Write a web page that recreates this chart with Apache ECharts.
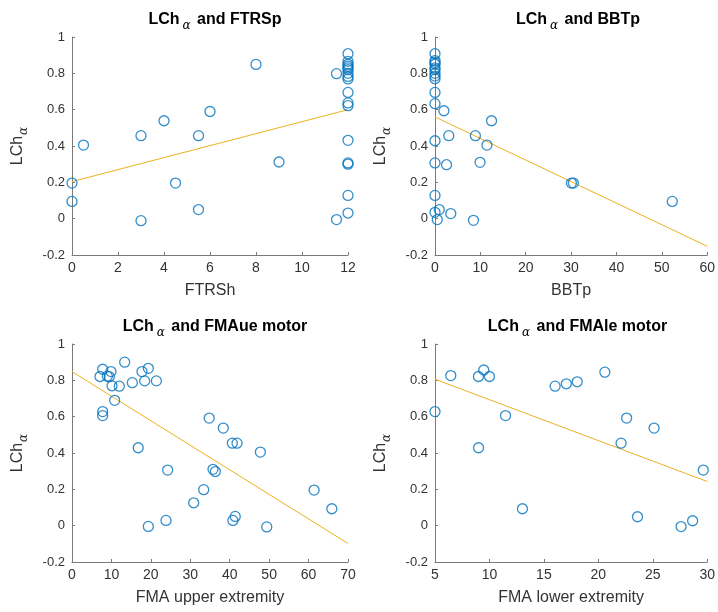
<!DOCTYPE html>
<html><head><meta charset="utf-8">
<script src="https://cdn.jsdelivr.net/npm/echarts@6/dist/echarts.min.js"></script>
<style>html,body{margin:0;padding:0;background:#fff}#c{width:718px;height:612px}</style>
</head><body><div id="c"></div>
<script>
// Panel 1: LCh_alpha vs FTRSh
const ftrsX = [0, 0, 0.5, 3, 3, 4, 4.5, 5.5, 5.5, 6, 8, 9, 11.5, 11.5,
  12, 12, 12, 12, 12, 12, 12, 12, 12, 12, 12, 12, 12, 12, 12, 12, 12];
const ftrsY = [0.196, 0.095, 0.405, 0.457, -0.011, 0.539, 0.196, 0.457, 0.05, 0.59, 0.849, 0.312, 0.798, -0.005,
  0.908, 0.866, 0.85, 0.84, 0.83, 0.82, 0.80, 0.783, 0.769, 0.695, 0.637, 0.622, 0.431, 0.307, 0.30, 0.128, 0.031];
const ftrsFitX = [0, 12];
const ftrsFitY = [0.204, 0.60];

// Panel 2: LCh_alpha vs BBTp
const bbtX = [0, 0, 0, 0, 0, 0, 0, 0, 0, 0, 0, 0, 0, 0, 0,
  1.96, 3.04, 2.54, 0.94, 3.48, 0.5, 8.48, 8.9, 11.45, 12.46, 9.93, 30.07, 30.5, 52.3];
const bbtY = [0.908, 0.87, 0.86, 0.85, 0.83, 0.82, 0.80, 0.785, 0.77, 0.695, 0.633, 0.429, 0.307, 0.128, 0.035,
  0.594, 0.457, 0.297, 0.05, 0.028, -0.005, -0.009, 0.457, 0.405, 0.539, 0.31, 0.196, 0.196, 0.095];
const bbtFitX = [0, 60];
const bbtFitY = [0.56, -0.152];

// Panel 3: LCh_alpha vs FMA upper extremity
const fmaueX = [7.78, 7.1, 9.89, 8.96, 9.46, 10.14, 12.0, 13.36, 15.3, 17.75, 19.36, 18.43, 21.4, 10.82, 7.78, 7.78,
  16.8, 24.26, 34.8, 38.37, 40.66, 41.85, 47.77, 35.76, 36.35, 33.4, 30.86, 23.84, 19.36, 41.4, 40.8, 49.4, 61.4, 65.9];
const fmaueY = [0.861, 0.821, 0.848, 0.823, 0.82, 0.77, 0.768, 0.90, 0.787, 0.848, 0.866, 0.797, 0.797, 0.69, 0.628, 0.606,
  0.429, 0.306, 0.592, 0.537, 0.454, 0.454, 0.405, 0.31, 0.298, 0.198, 0.126, 0.029, -0.004, 0.051, 0.029, -0.007, 0.196, 0.093];
const fmaueFitX = [0, 70];
const fmaueFitY = [0.848, -0.098];

// Panel 4: LCh_alpha vs FMA lower extremity
const fmaleX = [5.0, 6.45, 8.99, 9.48, 10.0, 9.0, 11.48, 13.03, 16.03, 17.06, 18.06, 20.6, 22.09, 22.6, 25.12, 23.6, 27.6, 28.66, 29.64];
const fmaleY = [0.628, 0.826, 0.821, 0.857, 0.821, 0.429, 0.606, 0.093, 0.768, 0.781, 0.792, 0.845, 0.454, 0.592, 0.537, 0.049, -0.005, 0.027, 0.306];
const fmaleFitX = [5, 30];
const fmaleFitY = [0.806, 0.243];

const titles = ['and FTRSp', 'and BBTp', 'and FMAue motor', 'and FMAle motor'];
const xNames = ['FTRSh', 'BBTp', 'FMA upper extremity', 'FMA lower extremity'];
const xMins = [0, 0, 0, 5];
const xMaxs = [12, 60, 70, 30];
const xSteps = [2, 10, 10, 5];

const panels = [
  [ftrsX, ftrsY, ftrsFitX, ftrsFitY],
  [bbtX, bbtY, bbtFitX, bbtFitY],
  [fmaueX, fmaueY, fmaueFitX, fmaueFitY],
  [fmaleX, fmaleY, fmaleFitX, fmaleFitY]
];

const grids = [
  {left: 72, top: 37, width: 276, height: 218},
  {left: 435, top: 37, width: 276, height: 218},
  {left: 72, top: 344, width: 276, height: 218},
  {left: 435, top: 344, width: 275, height: 218}
];

const axisColor = '#7a7a7a';
const textColor = '#333333';
const fontFam = '"Liberation Sans", Arial, sans-serif';

const zip = (a, b) => a.map((v, i) => [v, b[i]]);

const option = {
  animation: false,
  backgroundColor: '#ffffff',
  title: grids.map((g, i) => ({
    text: '{b|LCh}{sub|α}{b| ' + titles[i] + '}',
    left: g.left + g.width / 2,
    top: i < 2 ? 3 : 310,
    textAlign: 'center',
    textStyle: {
      fontWeight: 'normal',
      rich: {
        b: {fontSize: 16, fontWeight: 'bold', fontFamily: fontFam, color: '#000'},
        sub: {fontSize: 12, fontWeight: 'normal', fontStyle: 'italic', fontFamily: '"DejaVu Serif", serif', color: '#000', padding: [12, 2, 0, 3]}
      }
    }
  })),
  grid: grids.map(g => Object.assign({containLabel: false}, g)),
  xAxis: grids.map((g, i) => ({
    gridIndex: i, type: 'value', min: xMins[i], max: xMaxs[i], interval: xSteps[i],
    name: xNames[i], nameLocation: 'middle', nameGap: 28,
    nameTextStyle: {fontSize: 16, color: textColor, fontFamily: fontFam},
    axisLine: {show: true, onZero: false, lineStyle: {color: axisColor, width: 1}},
    axisTick: {show: true, inside: true, length: 3, lineStyle: {color: axisColor}},
    axisLabel: {fontSize: 14, color: textColor, fontFamily: fontFam, margin: 6},
    splitLine: {show: false}
  })),
  yAxis: grids.map((g, i) => ({
    gridIndex: i, type: 'value', min: -0.2, max: 1, interval: 0.2,
    name: '{n|LCh}{s|α}', nameLocation: 'middle', nameGap: 42,
    nameTextStyle: {
      rich: {
        n: {fontSize: 16, color: textColor, fontFamily: fontFam},
        s: {fontSize: 12, fontStyle: 'italic', fontFamily: '"DejaVu Serif", serif', color: textColor, padding: [12, 0, 0, 1]}
      }
    },
    axisLine: {show: true, onZero: false, lineStyle: {color: axisColor, width: 1}},
    axisTick: {show: true, inside: true, length: 3, lineStyle: {color: axisColor}},
    axisLabel: {fontSize: 13, color: textColor, fontFamily: fontFam, margin: 7},
    splitLine: {show: false}
  })),
  series: panels.flatMap((p, i) => [
    {
      type: 'scatter', xAxisIndex: i, yAxisIndex: i, clip: false,
      data: zip(p[0], p[1]), symbol: 'circle', symbolSize: 10,
      itemStyle: {color: 'rgba(0,0,0,0)', borderColor: '#0072BD', borderWidth: 1.3},
      z: 3
    },
    {
      type: 'line', xAxisIndex: i, yAxisIndex: i, data: zip(p[2], p[3]),
      symbol: 'none', lineStyle: {color: '#EDB120', width: 1}, z: 2, silent: true
    }
  ])
};

const chart = echarts.init(document.getElementById('c'), null, {renderer: 'canvas'});
chart.setOption(option);
</script>
</body></html>
